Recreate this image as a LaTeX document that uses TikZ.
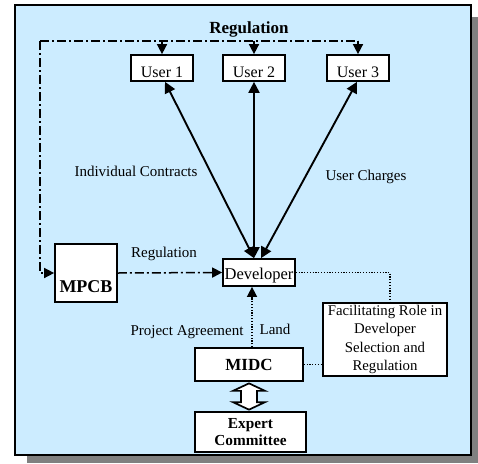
\documentclass[tikz,border=0pt]{standalone}
\usepackage{fontspec}
\setmainfont{Liberation Serif}
\usetikzlibrary{arrows.meta,calc}
\definecolor{bgblue}{HTML}{CCECFF}
\definecolor{shadowgray}{HTML}{808080}
\tikzset{
  box/.style={draw=black, line width=1.7pt, fill=white, inner sep=0pt, rectangle},
  lbl/.style={inner sep=0pt, font=\fontsize{15}{18}\selectfont},
  dd/.style={line width=1.5pt, dash pattern=on 9pt off 3pt on 2pt off 3pt},
  dt/.style={line width=1.4pt, dash pattern=on 1.2pt off 1.6pt},
  tip/.style={-{Triangle[width=10pt,length=10pt]}},
  ttip/.style={{Triangle[width=11pt,length=11pt]}-{Triangle[width=11pt,length=11pt]}}
}
\newcommand{\shiftdown}[2]{\raisebox{-#1}[\height][\depth]{#2}}
\begin{document}
\begin{tikzpicture}[x=1pt,y=-1pt]
\useasboundingbox (0,0) rectangle (478,463);
% shadow and frame
\fill[shadowgray] (27,17) rectangle (478,463);
\draw[fill=bgblue, line width=1.9pt] (15,5) rectangle (471,455);

% nodes
\node[box, minimum width=62, minimum height=26, font=\fontsize{16}{18}\selectfont] (u1) at (162,68) {\shiftdown{4pt}{User 1}};
\node[box, minimum width=62, minimum height=26, font=\fontsize{16}{18}\selectfont] (u2) at (254,68) {\shiftdown{4pt}{User 2}};
\node[box, minimum width=62, minimum height=26, font=\fontsize{16}{18}\selectfont] (u3) at (358,68) {\shiftdown{4pt}{User 3}};
\node[box, minimum width=72, minimum height=27, font=\fontsize{16.5}{18}\selectfont] (dev) at (259,272.5) {\shiftdown{3pt}{Developer}};
\node[box, minimum width=62, minimum height=58, font=\fontsize{18}{20}\selectfont\bfseries] (mpcb) at (86,273) {\shiftdown{14pt}{MPCB}};
\node[box, minimum width=124, minimum height=73, align=center, font=\fontsize{14.8}{18.3}\selectfont] (fac) at (385,339.5) {Facilitating Role in\\Developer\\Selection and\\Regulation};
\node[box, minimum width=108, minimum height=33, font=\fontsize{17}{20}\selectfont\bfseries] (midc) at (249,364.5) {MIDC};
\node[box, minimum width=111, minimum height=40, align=center, font=\fontsize{15.3}{17.5}\selectfont\bfseries] (exp) at (250.5,432) {Expert\\Committee};

% labels
\node[inner sep=0pt, font=\fontsize{17}{18}\selectfont\bfseries] (regtop) at (249,29) {Regulation};
\node[lbl] (ic) at (136,171) {Individual Contracts};
\node[lbl] (uc) at (366,177) {User Charges};
\node[lbl] (reg) at (164,254) {Regulation};
\node[lbl] (pa) at (187,332) {Project Agreement};
\node[lbl] (land) at (275,329) {Land};

% regulation dash-dot lines
\coordinate (tl) at (40,41);
\coordinate (tr) at (358,41);
\draw[dd] (tl) -- (tr);
\draw[dd,tip] (tl) |- (mpcb.west);
\draw[dd,tip] (u1.north |- tl) -- (u1.north);
\draw[dd,tip] (u2.north |- tl) -- (u2.north);
\draw[dd,tip] (tr) -- (u3.north);
\draw[dd,tip] (mpcb.east) -- (dev.west);

% contracts
\draw[line width=1.9pt,ttip] ([xshift=3pt]u1.south) -- ([xshift=-5pt]dev.north);
\draw[line width=1.9pt,ttip] (u2.south) -- (u2.south |- dev.north);
\draw[line width=1.9pt,ttip] ([xshift=-1pt]u3.south) -- ([xshift=2pt]dev.north);

% dotted links
\draw[dt] (dev.east) -| ([xshift=5pt]fac.north);
\draw[dt,tip] ([xshift=3pt]midc.north) -- ([xshift=3pt]midc.north |- dev.south);
\draw[dt] (midc.east) -- (midc.east -| fac.west);

% hollow double arrow
\coordinate (a) at (midc.south);
\coordinate (b) at (midc.south |- exp.north);
\draw[fill=white, line width=1.7pt, line join=miter]
  ($(a)+(0,1.5)$) -- ($(a)+(16,9)$) -- ($(a)+(8,9)$) -- ($(b)+(8,-9)$) -- ($(b)+(16,-9)$)
  -- ($(b)+(0,-1.5)$) -- ($(b)+(-16,-9)$) -- ($(b)+(-8,-9)$) -- ($(a)+(-8,9)$) -- ($(a)+(-16,9)$) -- cycle;
\end{tikzpicture}
\end{document}
